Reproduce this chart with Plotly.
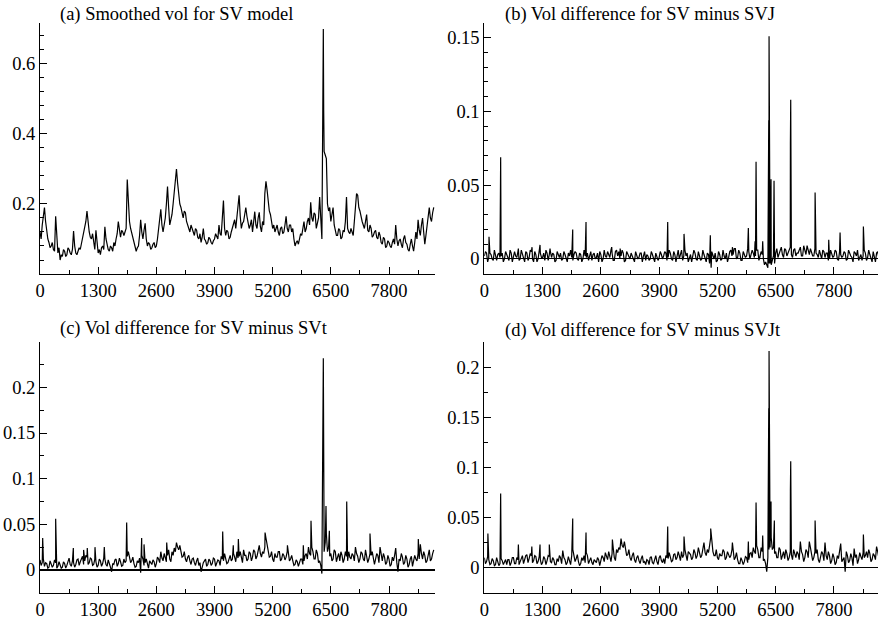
import plotly.graph_objects as go

FONT = "Liberation Serif, Times New Roman, serif"

# time index (observation number): main grid and in-between grid
t = list(range(0, 8801, 50))
t_mid = list(range(25, 8776, 50))

# (a) Smoothed vol for SV model
vol_sv = [
    0.12, 0.14, 0.19, 0.12, 0.09, 0.08, 0.07, 0.165, 0.06, 0.04,
    0.05, 0.065, 0.055, 0.07, 0.055, 0.123, 0.06, 0.065, 0.07, 0.1,
    0.13, 0.18, 0.12, 0.1, 0.085, 0.125, 0.06, 0.055, 0.08, 0.135,
    0.08, 0.065, 0.075, 0.09, 0.1, 0.15, 0.105, 0.12, 0.125, 0.27,
    0.15, 0.115, 0.09, 0.065, 0.08, 0.155, 0.1, 0.145, 0.08, 0.085,
    0.075, 0.09, 0.08, 0.13, 0.185, 0.12, 0.16, 0.25, 0.14, 0.17,
    0.23, 0.3, 0.22, 0.19, 0.16, 0.175, 0.14, 0.12, 0.13, 0.11,
    0.125, 0.1, 0.09, 0.13, 0.095, 0.09, 0.1, 0.085, 0.1, 0.105,
    0.14, 0.11, 0.21, 0.11, 0.12, 0.105, 0.13, 0.155, 0.17, 0.225,
    0.13, 0.15, 0.19, 0.15, 0.14, 0.12, 0.178, 0.13, 0.176, 0.12,
    0.14, 0.265, 0.2, 0.17, 0.13, 0.12, 0.14, 0.11, 0.135, 0.12,
    0.165, 0.12, 0.14, 0.13, 0.08, 0.095, 0.1, 0.11, 0.15, 0.13,
    0.16, 0.205, 0.15, 0.17, 0.145, 0.22, 0.1, 0.35, 0.33, 0.18,
    0.15, 0.19, 0.125, 0.11, 0.125, 0.105, 0.12, 0.22, 0.12, 0.13,
    0.11, 0.2, 0.225, 0.18, 0.15, 0.13, 0.17, 0.12, 0.13, 0.11,
    0.125, 0.1, 0.11, 0.085, 0.1, 0.08, 0.09, 0.075, 0.1, 0.14,
    0.08, 0.1, 0.075, 0.11, 0.085, 0.065, 0.1, 0.065, 0.12, 0.155,
    0.11, 0.16, 0.085, 0.14, 0.19, 0.15, 0.19,
]
vol_sv_mid = [
    0.1, 0.165, 0.15, 0.1, 0.075, 0.09, 0.065, 0.09, 0.075, 0.055,
    0.07, 0.05, 0.075, 0.06, 0.07, 0.08, 0.055, 0.075, 0.085, 0.115,
    0.15, 0.145, 0.105, 0.115, 0.07, 0.09, 0.07, 0.075, 0.07, 0.1,
    0.07, 0.08, 0.065, 0.08, 0.115, 0.12, 0.125, 0.11, 0.13, 0.19,
    0.13, 0.1, 0.075, 0.075, 0.11, 0.12, 0.125, 0.1, 0.09, 0.07,
    0.085, 0.075, 0.1, 0.15, 0.14, 0.14, 0.2, 0.19, 0.155, 0.2,
    0.27, 0.26, 0.2, 0.175, 0.18, 0.15, 0.125, 0.14, 0.115, 0.13,
    0.105, 0.115, 0.105, 0.1, 0.085, 0.105, 0.09, 0.095, 0.115, 0.1,
    0.115, 0.15, 0.13, 0.125, 0.1, 0.12, 0.14, 0.13, 0.2, 0.165,
    0.145, 0.17, 0.165, 0.13, 0.155, 0.15, 0.14, 0.16, 0.135, 0.15,
    0.23, 0.24, 0.18, 0.15, 0.14, 0.13, 0.12, 0.13, 0.115, 0.14,
    0.13, 0.14, 0.12, 0.1, 0.09, 0.085, 0.115, 0.13, 0.12, 0.15,
    0.14, 0.16, 0.175, 0.13, 0.16, 0.13, 0.6, 0.34, 0.2, 0.19,
    0.17, 0.14, 0.11, 0.13, 0.1, 0.125, 0.15, 0.13, 0.115, 0.12,
    0.15, 0.23, 0.19, 0.16, 0.14, 0.15, 0.125, 0.14, 0.105, 0.12,
    0.105, 0.12, 0.09, 0.105, 0.075, 0.095, 0.08, 0.09, 0.085, 0.1,
    0.095, 0.085, 0.1, 0.09, 0.07, 0.085, 0.08, 0.09, 0.1, 0.125,
    0.14, 0.12, 0.11, 0.17, 0.16, 0.175,
]
spike_a_t = [6320, 6332, 6340]
spike_a_v = [0.46, 0.70, 0.47]

# (b) SV minus SVJ
diff_svj = [
    0.002, 0.004, 0.001, 0.003, -0.001, 0.002, 0.003, 0.001, 0.004, 0.0,
    0.003, -0.001, 0.004, 0.001, 0.002, 0.005, 0.0, 0.003, -0.002, 0.004,
    0.001, 0.005, -0.002, 0.003, 0.0, 0.004, 0.001, -0.001, 0.004, 0.003,
    0.001, 0.003, -0.001, 0.002, 0.004, 0.0, 0.003, -0.002, 0.002, 0.001,
    0.003, 0.004, -0.001, 0.003, 0.0, 0.002, 0.004, 0.003, -0.001, 0.004,
    0.001, -0.002, 0.003, 0.0, 0.002, 0.005, 0.001, 0.004, -0.001, 0.006,
    0.005, 0.002, 0.004, -0.001, 0.003, 0.0, 0.002, -0.002, 0.003, 0.001,
    0.004, 0.002, -0.001, 0.002, 0.0, 0.003, -0.002, 0.002, 0.001, 0.003,
    0.002, 0.004, 0.001, 0.004, -0.001, 0.003, 0.002, 0.0, 0.006, 0.002,
    0.002, -0.002, 0.003, 0.001, 0.004, -0.001, 0.002, 0.0, 0.003, -0.002,
    0.003, 0.001, 0.002, 0.004, -0.001, 0.003, 0.0, 0.002, 0.004, 0.001,
    0.006, 0.003, 0.007, 0.001, 0.004, -0.001, 0.003, 0.002, 0.005, 0.003,
    0.004, 0.002, 0.006, 0.002, 0.003, -0.004, -0.005, -0.003, -0.004, 0.002,
    0.004, 0.001, 0.006, 0.003, 0.007, 0.002, 0.005, 0.003, 0.006, 0.002,
    0.004, 0.008, 0.002, 0.006, 0.009, 0.003, 0.005, 0.002, 0.004, 0.001,
    0.003, 0.006, 0.001, 0.004, 0.0, 0.003, 0.002, 0.005, -0.001, 0.003,
    0.002, 0.004, 0.0, 0.003, 0.001, 0.005, 0.002, -0.001, 0.003, 0.002,
    0.004, 0.001, 0.003, -0.002, 0.002, 0.004, 0.001,
]
diff_svj_mid = [
    0.005, -0.002, 0.004, 0.0, 0.006, -0.001, 0.004, 0.002, -0.002, 0.005,
    0.0, 0.006, -0.002, 0.005, 0.001, -0.001, 0.006, 0.0, 0.005, -0.001,
    0.006, 0.0, 0.005, -0.002, 0.006, 0.001, 0.004, 0.006, -0.001, 0.005,
    0.004, -0.002, 0.005, 0.001, -0.001, 0.005, 0.0, 0.004, 0.006, -0.001,
    0.005, 0.0, 0.004, -0.002, 0.006, 0.001, -0.001, 0.005, 0.003, 0.0,
    0.004, 0.005, -0.002, 0.006, 0.001, 0.003, 0.006, -0.001, 0.005, 0.002,
    0.0, 0.006, -0.002, 0.005, 0.001, 0.004, -0.001, 0.005, 0.0, 0.004,
    -0.002, 0.005, 0.003, -0.001, 0.005, 0.001, 0.004, -0.001, 0.005, 0.0,
    0.005, -0.001, 0.006, 0.0, 0.005, -0.002, 0.006, 0.003, -0.001, 0.006,
    0.004, 0.001, -0.002, 0.006, 0.0, 0.005, -0.001, 0.006, 0.001, 0.004,
    -0.003, 0.005, 0.0, -0.002, 0.005, -0.001, 0.006, 0.0, -0.002, 0.005,
    0.002, 0.007, 0.0, 0.006, -0.001, 0.005, 0.001, 0.007, 0.0, 0.006,
    0.001, 0.006, -0.001, 0.005, 0.0, -0.002, -0.006, -0.003, 0.0, -0.003,
    0.007, 0.003, 0.008, 0.001, 0.006, 0.004, 0.008, 0.001, 0.007, 0.004,
    0.007, 0.002, 0.009, 0.003, 0.005, 0.007, 0.002, 0.007, 0.003, 0.006,
    0.0, 0.005, 0.004, -0.001, 0.006, 0.001, 0.006, 0.0, 0.005, 0.001,
    0.005, -0.001, 0.006, 0.002, -0.002, 0.004, 0.006, 0.002, -0.001, 0.006,
    -0.001, 0.006, 0.0, 0.005, -0.002, 0.005,
]
spike_b_t = [105, 355, 365, 760, 1065, 1243, 1466, 1972, 2269, 2842, 3030,
             4091, 4455, 5042, 5060, 5534, 5890, 6040, 6062, 6210, 6345,
             6352, 6396, 6463, 6828, 6835, 7379, 7683, 7936, 8456]
spike_b_v = [0.015, 0.04, 0.069, 0.007, 0.008, 0.0095, 0.007, 0.020, 0.025,
             0.008, 0.007, 0.025, 0.017, 0.016, -0.006, 0.008, 0.021, 0.012,
             0.066, 0.012, 0.094, 0.151, 0.054, 0.053, 0.078, 0.108, 0.045,
             0.013, 0.018, 0.022]

# (c) SV minus SVt
diff_svt = [
    0.011, 0.008, 0.004, 0.007, 0.003, 0.006, 0.005, 0.008, 0.004, 0.006,
    0.003, 0.007, 0.005, 0.013, 0.004, 0.008, 0.006, 0.012, 0.009, 0.015,
    0.01, 0.014, 0.008, 0.012, 0.006, 0.009, 0.005, 0.01, 0.007, 0.012,
    0.004, 0.008, -0.002, 0.006, 0.012, 0.007, 0.009, 0.005, 0.008, 0.015,
    0.013, 0.01, 0.007, 0.004, 0.008, -0.003, 0.012, 0.008, 0.005, 0.01,
    0.006, 0.009, 0.007, 0.012, 0.02, 0.01, 0.014, 0.016, 0.012, 0.02,
    0.024, 0.03, 0.022, 0.018, 0.015, 0.012, 0.014, 0.01, 0.012, 0.008,
    0.01, 0.005, -0.002, 0.008, 0.012, 0.006, 0.01, 0.007, 0.012, 0.008,
    0.01, 0.015, 0.01, 0.012, 0.008, 0.016, 0.012, 0.014, 0.02, 0.015,
    0.012, 0.022, 0.016, 0.012, 0.018, 0.014, 0.02, 0.015, 0.027, 0.014,
    0.018, 0.035, 0.02, 0.015, 0.012, 0.018, 0.014, 0.02, 0.012, 0.016,
    0.014, 0.018, 0.012, 0.01, 0.006, 0.009, 0.008, 0.012, 0.01, 0.018,
    0.025, 0.016, 0.02, 0.012, 0.018, 0.01, -0.004, 0.02, 0.04, 0.025,
    0.018, 0.012, 0.02, 0.014, 0.01, 0.016, 0.012, 0.015, 0.02, 0.012,
    0.016, 0.025, 0.015, 0.012, 0.018, 0.01, 0.014, 0.012, 0.016, 0.01,
    0.012, 0.016, 0.025, 0.01, 0.014, 0.008, 0.012, 0.006, 0.01, 0.024,
    -0.002, 0.01, 0.014, 0.008, 0.012, 0.006, 0.015, 0.009, 0.012, 0.018,
    0.028, 0.012, 0.016, 0.01, 0.022, 0.012, 0.022,
]
diff_svt_mid = [
    0.005, 0.012, 0.008, 0.002, 0.01, 0.003, 0.011, 0.002, 0.009, 0.002,
    0.009, 0.002, 0.01, 0.006, 0.01, 0.003, 0.011, 0.005, 0.013, 0.006,
    0.016, 0.006, 0.013, 0.005, 0.012, 0.003, 0.012, 0.004, 0.013, 0.006,
    0.011, 0.003, 0.007, 0.011, 0.004, 0.013, 0.004, 0.012, 0.01, 0.02,
    0.008, 0.014, 0.003, 0.01, 0.013, 0.016, 0.005, 0.012, 0.002, 0.008,
    0.011, 0.003, 0.014, 0.008, 0.013, 0.018, 0.009, 0.022, 0.009, 0.016,
    0.02, 0.025, 0.027, 0.014, 0.02, 0.009, 0.016, 0.006, 0.013, 0.005,
    0.013, 0.008, 0.005, 0.01, 0.004, 0.012, 0.005, 0.013, 0.004, 0.011,
    0.005, 0.012, 0.018, 0.007, 0.014, 0.01, 0.018, 0.009, 0.013, 0.02,
    0.008, 0.016, 0.01, 0.02, 0.01, 0.022, 0.012, 0.02, 0.018, 0.02,
    0.025, 0.026, 0.014, 0.02, 0.009, 0.014, 0.02, 0.01, 0.018, 0.011,
    0.02, 0.01, 0.016, 0.005, 0.011, 0.004, 0.012, 0.006, 0.016, 0.012,
    0.018, 0.025, 0.012, 0.022, 0.008, 0.005, 0.2, 0.03, 0.02, 0.015,
    0.01, 0.022, 0.009, 0.018, 0.02, 0.008, 0.02, 0.01, 0.014, 0.018,
    0.01, 0.018, 0.008, 0.02, 0.012, 0.022, 0.008, 0.018, 0.02, 0.006,
    0.018, 0.008, 0.014, 0.018, 0.006, 0.016, 0.004, 0.014, 0.016, 0.008,
    0.012, 0.018, 0.006, 0.016, 0.003, 0.012, 0.004, 0.016, 0.01, 0.012,
    0.018, 0.02, 0.008, 0.016, 0.01, 0.018,
]
spike_c_t = [60, 350, 745, 975, 1057, 1229, 1437, 1937, 2272, 2325, 2832,
             4083, 4320, 4433, 5030, 5530, 5885, 6057, 6322, 6332, 6392,
             6467, 6855, 7375, 8455]
spike_c_v = [0.035, 0.056, 0.024, 0.022, 0.024, 0.025, 0.025, 0.052, 0.035,
             0.028, 0.03, 0.042, 0.027, 0.034, 0.041, 0.027, 0.027, 0.054,
             0.18, 0.232, 0.07, 0.043, 0.075, 0.04, 0.034]

# (d) SV minus SVJt
diff_svjt = [
    0.01, 0.006, 0.008, 0.004, 0.007, 0.003, 0.006, 0.004, 0.007, 0.005,
    0.003, 0.008, 0.005, 0.01, 0.004, 0.008, 0.006, 0.012, 0.008, 0.013,
    0.009, 0.012, 0.007, 0.011, 0.006, 0.008, 0.005, 0.009, 0.007, 0.011,
    0.005, 0.008, 0.003, 0.006, 0.01, 0.017, 0.008, 0.005, 0.007, 0.012,
    0.012, 0.009, 0.006, 0.004, 0.007, 0.005, 0.012, 0.007, 0.005, 0.008,
    0.005, 0.008, 0.006, 0.01, 0.015, 0.008, 0.012, 0.014, 0.01, 0.018,
    0.02, 0.029, 0.02, 0.016, 0.013, 0.01, 0.012, 0.008, 0.01, 0.007,
    0.009, 0.005, 0.003, 0.007, 0.01, 0.005, 0.008, 0.006, 0.01, 0.007,
    0.009, 0.012, 0.009, 0.011, 0.007, 0.014, 0.01, 0.012, 0.016, 0.013,
    0.01, 0.016, 0.013, 0.01, 0.015, 0.012, 0.016, 0.012, 0.025, 0.012,
    0.015, 0.03, 0.016, 0.012, 0.01, 0.014, 0.012, 0.016, 0.01, 0.013,
    0.012, 0.02, 0.01, 0.008, 0.004, 0.007, 0.006, 0.01, 0.008, 0.015,
    0.02, 0.014, 0.018, 0.01, 0.016, 0.008, -0.004, 0.018, 0.03, 0.02,
    0.016, 0.01, 0.018, 0.012, 0.009, 0.014, 0.01, 0.013, 0.018, 0.01,
    0.014, 0.026, 0.013, 0.01, 0.016, 0.026, 0.012, 0.01, 0.014, 0.008,
    0.01, 0.014, 0.025, 0.008, 0.012, 0.007, 0.01, 0.005, 0.009, 0.024,
    0.008, -0.004, 0.012, 0.007, 0.01, 0.019, 0.013, 0.008, 0.011, 0.015,
    0.012, 0.01, 0.014, 0.008, 0.012, 0.021, 0.01,
]
diff_svjt_mid = [
    0.004, 0.011, 0.003, 0.009, 0.002, 0.01, 0.002, 0.009, 0.003, 0.008,
    0.008, 0.002, 0.01, 0.004, 0.01, 0.003, 0.01, 0.004, 0.012, 0.005,
    0.014, 0.005, 0.012, 0.004, 0.011, 0.003, 0.011, 0.003, 0.012, 0.006,
    0.01, 0.003, 0.009, 0.012, 0.004, 0.01, 0.003, 0.011, 0.003, 0.018,
    0.006, 0.013, 0.002, 0.01, 0.012, 0.015, 0.004, 0.01, 0.003, 0.006,
    0.01, 0.002, 0.012, 0.006, 0.01, 0.016, 0.006, 0.02, 0.007, 0.015,
    0.018, 0.022, 0.026, 0.012, 0.018, 0.007, 0.015, 0.005, 0.012, 0.004,
    0.012, 0.006, 0.008, 0.003, 0.011, 0.004, 0.012, 0.003, 0.012, 0.005,
    0.004, 0.01, 0.015, 0.006, 0.013, 0.008, 0.016, 0.007, 0.01, 0.018,
    0.007, 0.015, 0.008, 0.018, 0.009, 0.02, 0.01, 0.018, 0.015, 0.018,
    0.022, 0.024, 0.012, 0.018, 0.008, 0.012, 0.018, 0.008, 0.016, 0.01,
    0.018, 0.008, 0.015, 0.004, 0.01, 0.003, 0.011, 0.005, 0.014, 0.01,
    0.016, 0.022, 0.01, 0.02, 0.007, 0.004, 0.01, 0.02, 0.018, 0.014,
    0.01, 0.02, 0.008, 0.016, 0.018, 0.007, 0.016, 0.008, 0.012, 0.016,
    0.008, 0.016, 0.006, 0.018, 0.01, 0.02, 0.007, 0.016, 0.018, 0.005,
    0.016, 0.007, 0.012, 0.016, 0.004, 0.014, 0.003, 0.012, 0.015, 0.006,
    0.01, 0.016, 0.005, 0.014, 0.002, 0.01, 0.004, 0.015, 0.008, 0.01,
    0.016, 0.018, 0.006, 0.014, 0.008, 0.016,
]
spike_d_t = [80, 365, 760, 1060, 1243, 1450, 1972, 2269, 2857, 4091, 4455,
             5050, 5534, 5890, 6062, 6210, 6345, 6352, 6396, 6470, 6828,
             6835, 7379, 8456]
spike_d_v = [0.034, 0.074, 0.023, 0.021, 0.023, 0.023, 0.049, 0.035, 0.028,
             0.041, 0.031, 0.039, 0.025, 0.026, 0.065, 0.032, 0.159, 0.216,
             0.066, 0.047, 0.077, 0.106, 0.047, 0.033]

titles = ["(a) Smoothed vol for SV model",
          "(b) Vol difference for SV minus SVJ",
          "(c) Vol difference for SV minus SVt",
          "(d) Vol difference for SV minus SVJt"]
x_ticks = [0, 1300, 2600, 3900, 5200, 6500, 7800]
y_ticks = [[0.2, 0.4, 0.6],
           [0, 0.05, 0.1, 0.15],
           [0, 0.05, 0.1, 0.15, 0.2],
           [0, 0.05, 0.1, 0.15, 0.2]]


def merge(base, mid, st, sv):
    pts = sorted(list(zip(t, base)) + list(zip(t_mid, mid)) +
                 list(zip(st, sv)))
    return [p[0] for p in pts], [p[1] for p in pts]


series = [merge(vol_sv, vol_sv_mid, spike_a_t, spike_a_v),
          merge(diff_svj, diff_svj_mid, spike_b_t, spike_b_v),
          merge(diff_svt, diff_svt_mid, spike_c_t, spike_c_v),
          merge(diff_svjt, diff_svjt_mid, spike_d_t, spike_d_v)]

W, H = 878, 620
# plot-area pixel boxes (left, right, top, bottom)
boxes = [(40, 435, 23, 274), (484.3, 878, 23, 274),
         (40, 435, 341.7, 592.7), (484.3, 878, 341.7, 592.7)]
x_max = [8828, 8782, 8828, 8782]
y_ranges = [[0, 0.717], [-0.0102, 0.16], [-0.0249, 0.25], [-0.025, 0.2253]]
y_minor = [0.04, 0.01, 0.025, 0.025]
zero_w = [1, 1, 1.6, 1.4]
title_pos = [(58, 15), (503, 14), (58, 328), (503, 330)]

tickfont = dict(family=FONT, size=18.5, color="black")

fig = go.Figure()
layout = dict(width=W, height=H, autosize=False,
              margin=dict(l=0, r=0, t=0, b=0, pad=0),
              paper_bgcolor="white", plot_bgcolor="white",
              showlegend=False, template="none", annotations=[])

for i in range(4):
    n = "" if i == 0 else str(i + 1)
    xs, ys = series[i]
    fig.add_trace(go.Scatter(x=xs, y=ys, mode="lines",
                             line=dict(color="black", width=1.2),
                             xaxis="x" + n, yaxis="y" + n,
                             hoverinfo="skip", showlegend=False))
    l, r, tp, bt = boxes[i]
    layout["xaxis" + n] = dict(
        domain=[l / W, min(r / W, 1.0)], anchor="y" + n,
        range=[0, x_max[i]], tickmode="array", tickvals=x_ticks,
        showline=True, linecolor="black", linewidth=1,
        ticks="inside", ticklen=7, tickwidth=1, tickcolor="black",
        showgrid=False, zeroline=False, tickfont=tickfont,
        minor=dict(ticks="inside", ticklen=4, tickwidth=1, tickcolor="black",
                   tickmode="linear", tick0=0, dtick=650, showgrid=False),
    )
    layout["yaxis" + n] = dict(
        domain=[1 - bt / H, 1 - tp / H], anchor="x" + n,
        range=y_ranges[i], tickmode="array", tickvals=y_ticks[i],
        showline=True, linecolor="black", linewidth=1,
        ticks="inside", ticklen=7, tickwidth=1, tickcolor="black",
        showgrid=False, zeroline=(i > 0), zerolinecolor="black",
        zerolinewidth=zero_w[i], tickfont=tickfont,
        minor=dict(ticks="inside", ticklen=4, tickwidth=1, tickcolor="black",
                   tickmode="linear", tick0=0, dtick=y_minor[i],
                   showgrid=False),
    )
    tx, ty = title_pos[i]
    layout["annotations"].append(dict(
        text=titles[i], xref="paper", yref="paper",
        x=tx / W, y=1 - ty / H, xanchor="left", yanchor="middle",
        showarrow=False, font=dict(family=FONT, size=18.5, color="black")))

fig.update_layout(**layout)
fig.write_html("out.html", config={"displayModeBar": False},
               post_script="document.body.style.margin='0px';")
